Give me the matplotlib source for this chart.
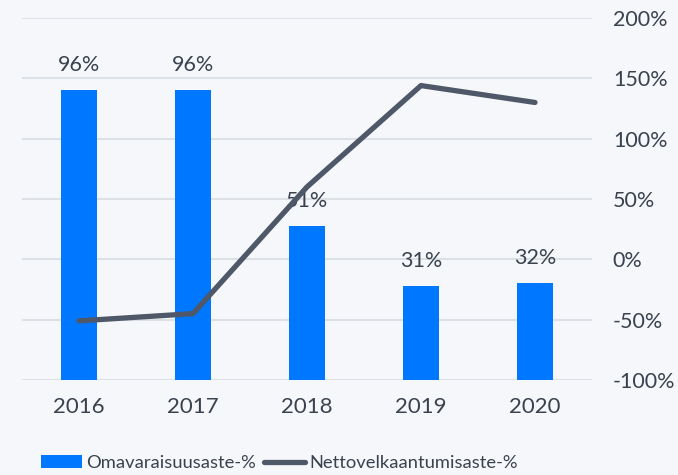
import matplotlib
matplotlib.use("Agg")
import matplotlib.pyplot as plt
from matplotlib.lines import Line2D
from matplotlib.patches import Patch
from matplotlib.ticker import FuncFormatter

years = ["2016", "2017", "2018", "2019", "2020"]
equity_ratio = [96, 96, 51, 31, 32]          # Omavaraisuusaste-%
net_gearing = [-51, -45, 60, 144, 130]        # Nettovelkaantumisaste-%
right_ticks = [-100, -50, 0, 50, 100, 150, 200]

BG = "#F5F7FB"
BAR = "#0077FF"
LINE = "#4E5868"
TEXT = "#3A424E"
GRID = "#DDE1E6"

plt.rcParams['font.family'] = ['Lato', 'DejaVu Sans']

fig = plt.figure(figsize=(6.78, 4.75), dpi=100, facecolor=BG)
ax = fig.add_axes([22/678, 95/475, 570/678, 362/475])
ax.set_facecolor(BG)
ax2 = ax.twinx()

x = list(range(len(years)))
ax.bar(x, equity_ratio, width=0.32, color=BAR, zorder=2)
for xi, v in zip(x, equity_ratio):
    ax.annotate(f"{v}%", (xi, v), xytext=(0, 11), textcoords="offset points",
                ha="center", va="bottom", fontsize=15.5, color=TEXT, zorder=3)
ax.set_ylim(0, 120)
ax.set_xlim(-0.5, 4.5)
ax.set_yticks([])
ax.set_xticks(x)
ax.set_xticklabels(years)
ax.tick_params(axis="x", length=0, pad=12, labelsize=16, labelcolor=TEXT)

ax2.plot(x, net_gearing, color=LINE, lw=3.8, solid_capstyle="round",
         solid_joinstyle="round", zorder=4)
ax2.set_ylim(-100, 200)
ax2.set_yticks(right_ticks)
ax2.yaxis.set_major_formatter(FuncFormatter(lambda v, p: f"{v:.0f}%"))
ax2.tick_params(axis="y", length=0, pad=15, labelsize=15.5, labelcolor=TEXT)
for t in right_ticks:
    ax.axhline((t + 100) * 120 / 300, color=GRID, lw=1.5, zorder=0)

for a in (ax, ax2):
    for s in a.spines.values():
        s.set_visible(False)
ax2.set_zorder(ax.get_zorder() + 1)
ax2.patch.set_visible(False)

handles = [Patch(facecolor=BAR, edgecolor='none'),
           Line2D([0], [0], color=LINE, lw=3.8, solid_capstyle="round")]
labels = ["Omavaraisuusaste-%", "Nettovelkaantumisaste-%"]
fig.legend(handles, labels, loc="center left", bbox_to_anchor=(32/678, 1 - 463/475),
           ncol=2, frameon=False, fontsize=13.2, labelcolor=TEXT, borderpad=0,
           handlelength=2.2, handleheight=0.75, handletextpad=0.27, columnspacing=0.44)

fig.savefig("out.png", dpi=100, facecolor=BG)
